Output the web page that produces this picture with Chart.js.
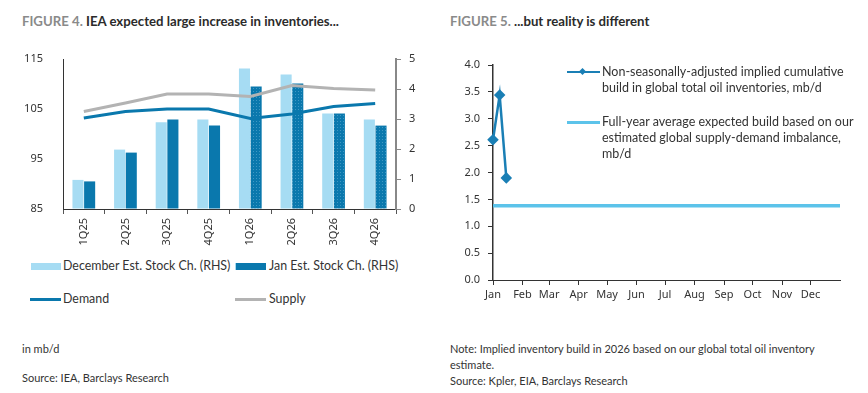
<!DOCTYPE html>
<html>
<head>
<meta charset="utf-8">
<script src="https://cdn.jsdelivr.net/npm/chart.js@4"></script>
<style>
  html, body { margin:0; padding:0; background:#fff; }
  body { width:868px; height:393px; position:relative; overflow:hidden; font-family:"Lato", "Noto Sans", sans-serif; color:#333; }
  .title { position:absolute; top:13px; font-weight:bold; font-size:13.2px; color:#2b2b2b; white-space:nowrap; }
  .title .fig { color:#8a8a8a; }
  .cv { position:absolute; }
  .lg { position:absolute; font-size:12.5px; color:#333; white-space:nowrap; line-height:16px; }
  .lgL { font-size:12.4px; }
  .sw { position:absolute; }
  .foot { position:absolute; font-size:11px; color:#333; white-space:nowrap; line-height:16px; }
</style>
</head>
<body>
<div class="title" style="left:22px;"><span class="fig">FIGURE 4.</span> IEA expected large increase in inventories...</div>
<div class="title" style="left:450px;"><span class="fig">FIGURE 5.</span> ...but reality is different</div>

<div class="cv" style="left:0;top:0;width:430px;height:250px;"><canvas id="c1" width="430" height="250"></canvas></div>
<div class="cv" style="left:430px;top:0;width:438px;height:320px;"><canvas id="c2" width="438" height="320"></canvas></div>

<!-- Left legend -->
<div class="sw" style="left:31px;top:263px;width:30px;height:7px;background:#a6dcf3;"></div>
<div class="lg lgL" style="left:63px;top:258px;">December Est. Stock Ch. (RHS)</div>
<div class="sw" style="left:235px;top:263px;width:30px;height:7px;background:#0a78ad;border-left:1px solid #a6dcf3;"></div>
<div class="lg lgL" style="left:269px;top:258px;">Jan Est. Stock Ch. (RHS)</div>
<div class="sw" style="left:30px;top:298px;width:31px;height:3px;background:#0a78ad;"></div>
<div class="lg lgL" style="left:63px;top:291px;">Demand</div>
<div class="sw" style="left:235px;top:298px;width:31px;height:3px;background:#b3b3b3;"></div>
<div class="lg lgL" style="left:269px;top:291px;">Supply</div>

<!-- Right legend -->
<div class="sw" style="left:567px;top:71px;width:33px;height:2px;background:#1a7fb5;"></div>
<div class="sw" style="left:580px;top:69px;width:5px;height:5px;background:#1a7fb5;transform:rotate(45deg);"></div>
<div class="lg" style="left:602px;top:64px;">Non-seasonally-adjusted implied cumulative<br>build in global total oil inventories, mb/d</div>
<div class="sw" style="left:567px;top:121px;width:33px;height:3px;background:#5cc3ea;"></div>
<div class="lg" style="left:602px;top:114px;">Full-year average expected build based on our<br>estimated global supply-demand imbalance,<br>mb/d</div>

<!-- Footers -->
<div class="foot" style="left:22px;top:341px;">in mb/d</div>
<div class="foot" style="left:22px;top:370px;">Source: IEA, Barclays Research</div>
<div class="foot" style="left:450px;top:341px;">Note: Implied inventory build in 2026 based on our global total oil inventory<br>estimate.<br>Source: Kpler, EIA, Barclays Research</div>

<script>
// ---------- Figure 4 data ----------
const categories = ['1Q25','2Q25','3Q25','4Q25','1Q26','2Q26','3Q26','4Q26'];
const decStockCh = [0.97, 1.98, 2.89, 2.98, 4.68, 4.48, 3.18, 2.98];
const janStockCh = [0.92, 1.88, 2.98, 2.78, 4.08, 4.18, 3.18, 2.78];
const demand = [103.2, 104.5, 105.0, 105.0, 103.1, 104.0, 105.5, 106.1];
const supply = [104.5, 106.2, 108.0, 108.0, 107.5, 109.7, 109.1, 108.8];
const forecastFrom = '1Q26';

// ---------- Figure 5 data ----------
const months = ['Jan','Feb','Mar','Apr','May','Jun','Jul','Aug','Sep','Oct','Nov','Dec'];
const buildDates = ['2026-01-01','2026-01-08','2026-01-15'];
const buildValues = [2.61, 3.44, 1.90];
const avgBuild = 1.38;

const FONT = {family:'"Noto Sans", sans-serif', size:11};
Chart.defaults.color = '#333';

// dotted pattern for forecast bars
function makePattern() {
  const p = document.createElement('canvas');
  p.width = 3; p.height = 3;
  const g = p.getContext('2d');
  g.fillStyle = '#0a78ad'; g.fillRect(0,0,3,3);
  g.fillStyle = '#3f98c4'; g.fillRect(1,1,1,1);
  return g.createPattern(p, 'repeat');
}
const ctx1 = document.getElementById('c1').getContext('2d');
const pat = makePattern();
const fIdx = categories.indexOf(forecastFrom);
const janColors = categories.map((c,i) => i >= fIdx ? pat : '#0a78ad');

new Chart(ctx1, {
  data: {
    labels: categories,
    datasets: [
      {type:'line', label:'Demand', data:demand, yAxisID:'y', borderColor:'#0a78ad', borderWidth:3, pointRadius:0, tension:0, order:0},
      {type:'line', label:'Supply', data:supply, yAxisID:'y', borderColor:'#b3b3b3', borderWidth:3, pointRadius:0, tension:0, order:0},
      {type:'bar', label:'December Est. Stock Ch. (RHS)', data:decStockCh, yAxisID:'y1', backgroundColor:'#a6dcf3', categoryPercentage:0.56, barPercentage:0.95, order:1},
      {type:'bar', label:'Jan Est. Stock Ch. (RHS)', data:janStockCh, yAxisID:'y1', backgroundColor:janColors, categoryPercentage:0.56, barPercentage:0.95, order:1}
    ]
  },
  options: {
    responsive:false, animation:false, events:[],
    layout:{padding:{top:59, left:0, right:0, bottom:0}},
    plugins:{legend:{display:false}, tooltip:{enabled:false}},
    scales: {
      x: {
        offset:true,
        grid:{display:true, drawOnChartArea:false, offset:true, tickLength:5, color:'#555'},
        border:{color:'#333', width:1},
        ticks:{font:FONT, minRotation:90, maxRotation:90, padding:4, color:'#333'},
        afterFit(s){ s.height = 41; }
      },
      y: {
        position:'left', min:85, max:115,
        afterBuildTicks(s){ s.ticks = [85,95,105,115].map(v=>({value:v})); },
        grid:{display:false},
        border:{color:'#333', width:1},
        ticks:{font:FONT, padding:12, color:'#333'},
        afterFit(s){ s.width = 63; }
      },
      y1: {
        position:'right', min:0, max:5,
        grid:{display:true, drawOnChartArea:false, tickLength:5, color:'#888'},
        border:{color:'#888', width:2},
        ticks:{font:FONT, stepSize:1, padding:8, color:'#333'},
        afterFit(s){ s.width = 34; }
      }
    }
  }
});

// ---------- Figure 5 ----------
const dayOf = d => Math.round((Date.UTC(+d.slice(0,4), +d.slice(5,7)-1, +d.slice(8,10)) - Date.UTC(+d.slice(0,4),0,1)) / 86400000);
const year = +buildDates[0].slice(0,4);
const monthStarts = months.map((m,i) => dayOf(year + '-' + String(i+1).padStart(2,'0') + '-01'));
const yearEnd = dayOf(year + '-12-31') + 1;

new Chart(document.getElementById('c2').getContext('2d'), {
  type:'line',
  data: {
    datasets: [
      {label:'Non-seasonally-adjusted implied cumulative build in global total oil inventories, mb/d',
       data: buildDates.map((d,i)=>({x:dayOf(d), y:buildValues[i]})),
       borderColor:'#1a7fb5', backgroundColor:'#1a7fb5', borderWidth:2.5,
       pointStyle:'rectRot', pointRadius:4, tension:0, clip:false, order:0},
      {label:'Full-year average expected build based on our estimated global supply-demand imbalance, mb/d',
       data: [{x:0, y:avgBuild}, {x:yearEnd, y:avgBuild}],
       borderColor:'#5cc3ea', borderWidth:3.5, pointRadius:0, tension:0, clip:false, order:1}
    ]
  },
  options: {
    responsive:false, animation:false, events:[],
    layout:{padding:{top:65, left:0, right:28, bottom:0}},
    plugins:{legend:{display:false}, tooltip:{enabled:false}},
    scales: {
      x: {
        type:'linear', min:0, max:yearEnd,
        afterBuildTicks(s){ s.ticks = monthStarts.map(v=>({value:v})); },
        grid:{display:true, drawOnChartArea:false, tickLength:5, color:'#333'},
        border:{color:'#333', width:1},
        ticks:{font:FONT, padding:3, maxRotation:0, autoSkip:false, color:'#333',
               callback:(v)=>months[monthStarts.indexOf(v)]},
        afterFit(s){ s.height = 40; }
      },
      y: {
        min:0, max:4,
        grid:{display:true, drawOnChartArea:false, tickLength:5, color:'#333'},
        border:{color:'#333', width:1.5},
        ticks:{font:FONT, stepSize:0.5, padding:8, color:'#333', callback:(v)=>v.toFixed(1)},
        afterFit(s){ s.width = 63; }
      }
    }
  }
});
</script>
</body>
</html>
